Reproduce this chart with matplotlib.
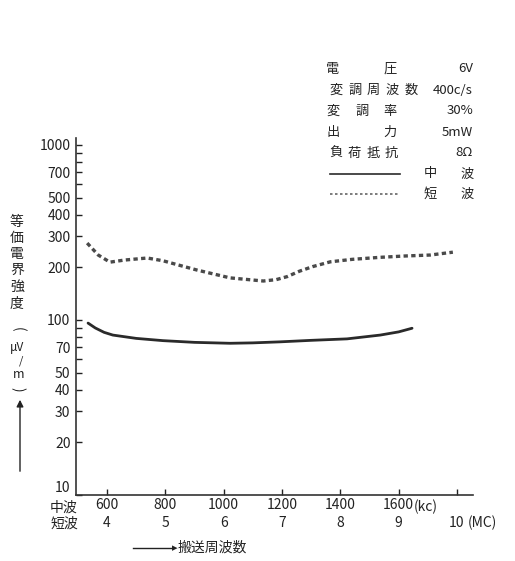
import numpy as np
import matplotlib
matplotlib.use("Agg")
import matplotlib.pyplot as plt
from matplotlib.lines import Line2D
from matplotlib.ticker import FixedLocator, NullFormatter

plt.rcParams['font.family'] = ['Noto Sans CJK JP', 'DejaVu Sans']

# ---- data ----
mw_kc = [535, 560, 590, 620, 700, 792, 900, 1022, 1100, 1193, 1300, 1423, 1537, 1600, 1646]
mw_val = [96, 90, 85, 82, 78.5, 76.2, 74.5, 73.6, 74, 75, 76.5, 78, 82, 85.5, 89.7]

sw_mc = [3.66, 3.85, 4.05, 4.3, 4.69, 4.96, 5.25, 5.54, 6.11, 6.68, 6.9, 7.09, 7.3, 7.53, 7.83, 8.2, 8.68, 9.1, 9.54, 9.93]
sw_val = [275, 235, 214, 220, 226, 218, 205, 193, 174, 167, 170, 177, 190, 202, 215, 222, 228, 232, 235, 244]

kc_ticks = [600, 800, 1000, 1200, 1400, 1600, 1800]
kc_labels = ['600', '800', '1000', '1200', '1400', '1600', '']
mc_ticks = [4, 5, 6, 7, 8, 9, 10]
mc_labels = ['4', '5', '6', '7', '8', '9', '10']
y_ticks = [10, 20, 30, 40, 50, 70, 100, 200, 300, 400, 500, 700, 1000]
y_minor = [60, 80, 90, 600, 800, 900]

cond_labels = [('電', '圧'), ('変', '調', '周', '波', '数'), ('変', '調', '率'), ('出', '力'), ('負', '荷', '抵', '抗')]
cond_values = ['6V', '400c/s', '30%', '5mW', '8Ω']

W, H = 515, 561
fig = plt.figure(figsize=(W / 100, H / 100), dpi=100)
fig.patch.set_facecolor('white')

def fx(px):
    return px / W

def fy(py):
    return 1 - py / H

ax = fig.add_axes([fx(76), fy(495), (473 - 76) / W, (495 - 138) / H])
ax.set_yscale('log')
ax.set_ylim(10, 1096)
ax.set_xlim(493.7, 1855)
for s in ['top', 'right']:
    ax.spines[s].set_visible(False)
for s in ['left', 'bottom']:
    ax.spines[s].set_color('#333333')
    ax.spines[s].set_linewidth(1.2)

ax.yaxis.set_major_locator(FixedLocator(y_ticks))
ax.set_yticklabels([str(v) for v in y_ticks])
ax.yaxis.set_minor_locator(FixedLocator(y_minor))
ax.yaxis.set_minor_formatter(NullFormatter())
ax.tick_params(axis='y', which='both', direction='in', length=4, width=1, pad=4,
               labelsize=10, colors='#222222')
ax.get_yticklabels()[0].set_va('bottom')
ax.set_xticks(kc_ticks)
ax.set_xticklabels(kc_labels)
ax.tick_params(axis='x', direction='in', length=4, width=1, pad=2, labelsize=10,
               colors='#222222')

ax.plot(mw_kc, mw_val, color='#2a2a2a', lw=2.0, solid_capstyle='round')

tw = ax.twiny()
tw.set_xlim(3.4685, 10.275)
for s in tw.spines.values():
    s.set_visible(False)
tw.xaxis.set_ticks_position('bottom')
tw.set_xticks(mc_ticks)
tw.set_xticklabels(mc_labels)
tw.tick_params(axis='x', length=0, pad=15, labelsize=10, colors='#222222')
tw.plot(sw_mc, sw_val, color='#4a4a4a', lw=2.4, linestyle=(0, (1.3, 1.0)))

tc = '#222222'
fs = 10
# axis row labels
fig.text(fx(64), fy(508), '中波', ha='center', va='center', fontsize=fs, color=tc)
fig.text(fx(64), fy(524), '短波', ha='center', va='center', fontsize=fs, color=tc)
fig.text(fx(414), fy(507), '(kc)', ha='left', va='center', fontsize=fs, color=tc)
fig.text(fx(468), fy(523), '(MC)', ha='left', va='center', fontsize=fs, color=tc)

# x axis title with arrow
fig.add_artist(Line2D([fx(133), fx(172)], [fy(548), fy(548)], color=tc, lw=1.0))
fig.text(fx(178), fy(548), '▸', ha='right', va='center', fontsize=8, color=tc,
         family=['DejaVu Sans'])
fig.text(fx(178), fy(548), '搬送周波数', ha='left', va='center', fontsize=fs, color=tc)

# y axis title (vertical)
ychars = [('等', 222), ('価', 238), ('電', 254), ('界', 270), ('強', 287), ('度', 304)]
for ch, yy in ychars:
    fig.text(fx(17), fy(yy), ch, ha='center', va='center', fontsize=fs, color=tc)
fig.text(fx(18), fy(329), '(', ha='center', va='center', fontsize=fs, color=tc, rotation=-90)
fig.text(fx(17), fy(347), 'μV', ha='center', va='center', fontsize=8.5, color=tc)
fig.text(fx(21), fy(361), '/', ha='center', va='center', fontsize=8, color=tc)
fig.text(fx(19), fy(374), 'm', ha='center', va='center', fontsize=9, color=tc)
fig.text(fx(18), fy(389), ')', ha='center', va='center', fontsize=fs, color=tc, rotation=-90)
ax_arrow = fig.add_axes([0, 0, 1, 1], facecolor='none')
ax_arrow.set_axis_off()
ax_arrow.set_xlim(0, W)
ax_arrow.set_ylim(H, 0)
ax_arrow.annotate('', xy=(20, 397), xytext=(20, 474),
                  arrowprops=dict(arrowstyle='-|>', color=tc, lw=1.0, mutation_scale=10))

# conditions legend
row_y = [69, 90, 111, 132, 153]
char_x = [
    [333, 390],
    [336, 355, 373, 392, 411],
    [333, 362, 390],
    [333, 390],
    [336, 354, 373, 391],
]
for chars, xs, yy, val in zip(cond_labels, char_x, row_y, cond_values):
    for ch, xx in zip(chars, xs):
        fig.text(fx(xx), fy(yy), ch, ha='center', va='center', fontsize=9.5, color=tc)
    fig.text(fx(473), fy(yy), val, ha='right', va='center', fontsize=9.5, color=tc)

fig.add_artist(Line2D([fx(330), fx(400)], [fy(174), fy(174)], color='#2a2a2a', lw=1.2))
fig.add_artist(Line2D([fx(330), fx(400)], [fy(194), fy(194)], color='#666666', lw=1.2,
                      linestyle=(0, (1.5, 1.5))))
for ch, xx, yy in [('中', 430, 174), ('波', 467, 174), ('短', 430, 194), ('波', 467, 194)]:
    fig.text(fx(xx), fy(yy), ch, ha='center', va='center', fontsize=9.5, color=tc)

fig.savefig('out.png', dpi=100, facecolor='white')
